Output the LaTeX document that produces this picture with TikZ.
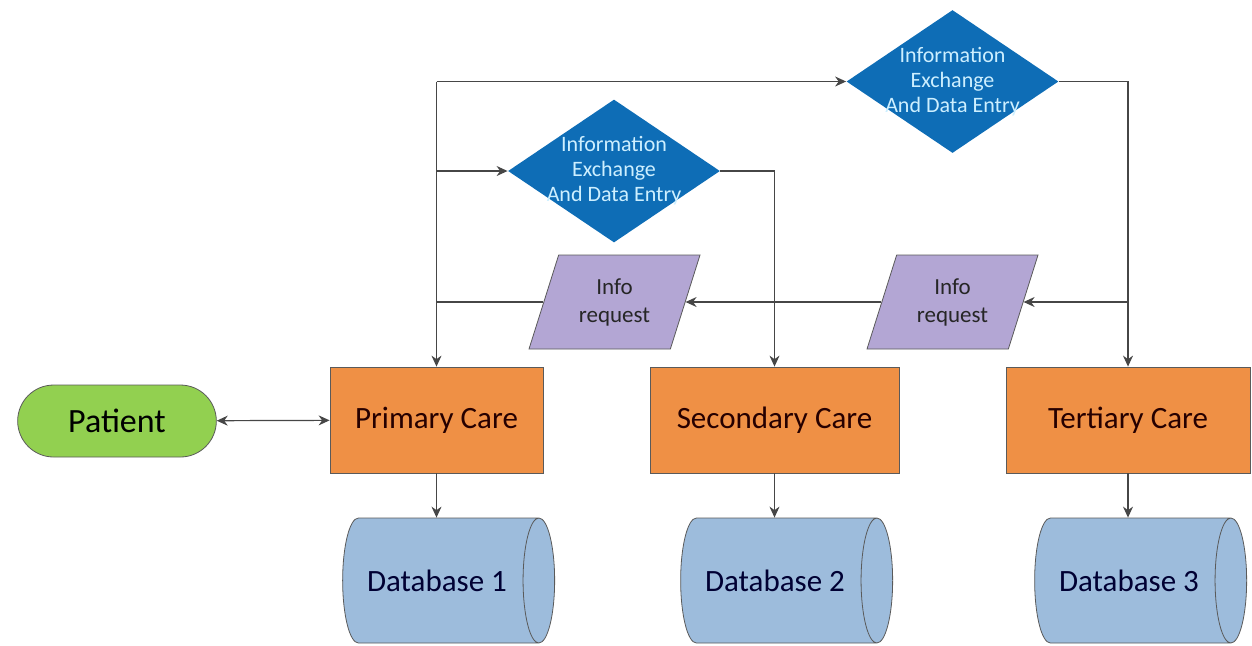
\documentclass[tikz,border=0pt]{standalone}
\usepackage{fontspec}
\setmainfont{Carlito}
\usetikzlibrary{shapes.geometric,shapes.misc,arrows.meta}

\definecolor{patientgreen}{HTML}{92D050}
\definecolor{careorange}{HTML}{EF9045}
\definecolor{exchblue}{HTML}{0E6DB6}
\definecolor{exchtextcol}{HTML}{CDEFFF}
\definecolor{reqlilac}{HTML}{B3A6D4}
\definecolor{dbblue}{HTML}{9DBCDC}
\definecolor{linegray}{HTML}{464646}
\definecolor{edgegray}{HTML}{5A5A5A}

\tikzset{
  patientbox/.style={rounded rectangle, draw=edgegray, fill=patientgreen,
    minimum width=106pt, minimum height=36pt, font=\fontsize{17}{20}\selectfont},
  carebox/.style={rectangle, draw=edgegray, fill=careorange, minimum height=53pt,
    text=black!85!red, font=\fontsize{15.5}{18}\selectfont},
  exchdiamond/.style={diamond, fill=exchblue, minimum width=106pt,
    minimum height=71.5pt, inner sep=0pt},
  exchtext/.style={align=center, text=exchtextcol, font=\fontsize{11}{12.5}\selectfont},
  reqbox/.style={trapezium, trapezium left angle=64, trapezium right angle=116,
    trapezium stretches body, draw=edgegray, fill=reqlilac, minimum width=85.5pt,
    minimum height=47pt, align=center, text=black!85, font=\fontsize{11.5}{14}\selectfont},
  dbcyl/.style={cylinder, draw=edgegray, fill=dbblue, aspect=0.9,
    minimum width=62.5pt, minimum height=106pt, text=blue!20!black,
    font=\fontsize{15.5}{18}\selectfont},
  flow/.style={draw=linegray, line width=0.6pt}
}

\begin{document}
\begin{tikzpicture}[x=0.5pt, y=-0.5pt, >={Stealth[length=5.5pt,width=5pt]}]
    \useasboundingbox (0,0) rectangle (1252,645);

    % Versorgungsstufen
    \node[patientbox] (patient) at (117,421) {Patient};
    \node[carebox, minimum width=106.5pt] (primary) at (436.5,420) {Primary Care};
    \node[carebox, minimum width=124.5pt] (secondary) at (774.5,420) {Secondary Care};
    \node[carebox, minimum width=122pt] (tertiary) at (1128,420) {Tertiary Care};

    % Datenbanken
    \node[dbcyl] (db1) at (437,580.5) {Database 1};
    \node[dbcyl] (db2) at (775,580.5) {Database 2};
    \node[dbcyl] (db3) at (1129,580.5) {Database 3};

    % Informationsaustausch und Anfragen
    \node[exchdiamond, label={[exchtext]center:{Information\\Exchange\\And Data Entry}}] (ie1) at (614,171) {};
    \node[exchdiamond, label={[exchtext]center:{Information\\Exchange\\And Data Entry}}] (ie2) at (952.5,81.5) {};
    \node[reqbox] (ir1) at (614.5,302) {Info\\request};
    \node[reqbox] (ir2) at (952.5,302) {Info\\request};

    \coordinate (hub) at (primary.north |- ie2.west);

    % Verbindungen
    \draw[flow, <->] (patient) -- (primary);
    \draw[flow, ->] (hub) -- (ie2.west);
    \draw[flow, ->] (hub) -- (primary.north);
    \draw[flow, ->] (primary.north |- ie1.west) -- (ie1.west);
    \draw[flow, ->] (ie1.east) -| (secondary.north);
    \draw[flow, ->] (ie2.east) -| (tertiary.north);
    \draw[flow, ->] (tertiary.north |- ir2.east) -- (ir2.east);
    \draw[flow, ->] (ir2.west) -- (ir1.east);
    \draw[flow] (ir1.west) -- (ir1.west -| primary.north);
    \draw[flow, ->] (primary.south) -- (primary.south |- db1.north);
    \draw[flow, ->] (secondary.south) -- (secondary.south |- db2.north);
    \draw[flow, ->] (tertiary.south) -- (tertiary.south |- db3.north);
\end{tikzpicture}
\end{document}
